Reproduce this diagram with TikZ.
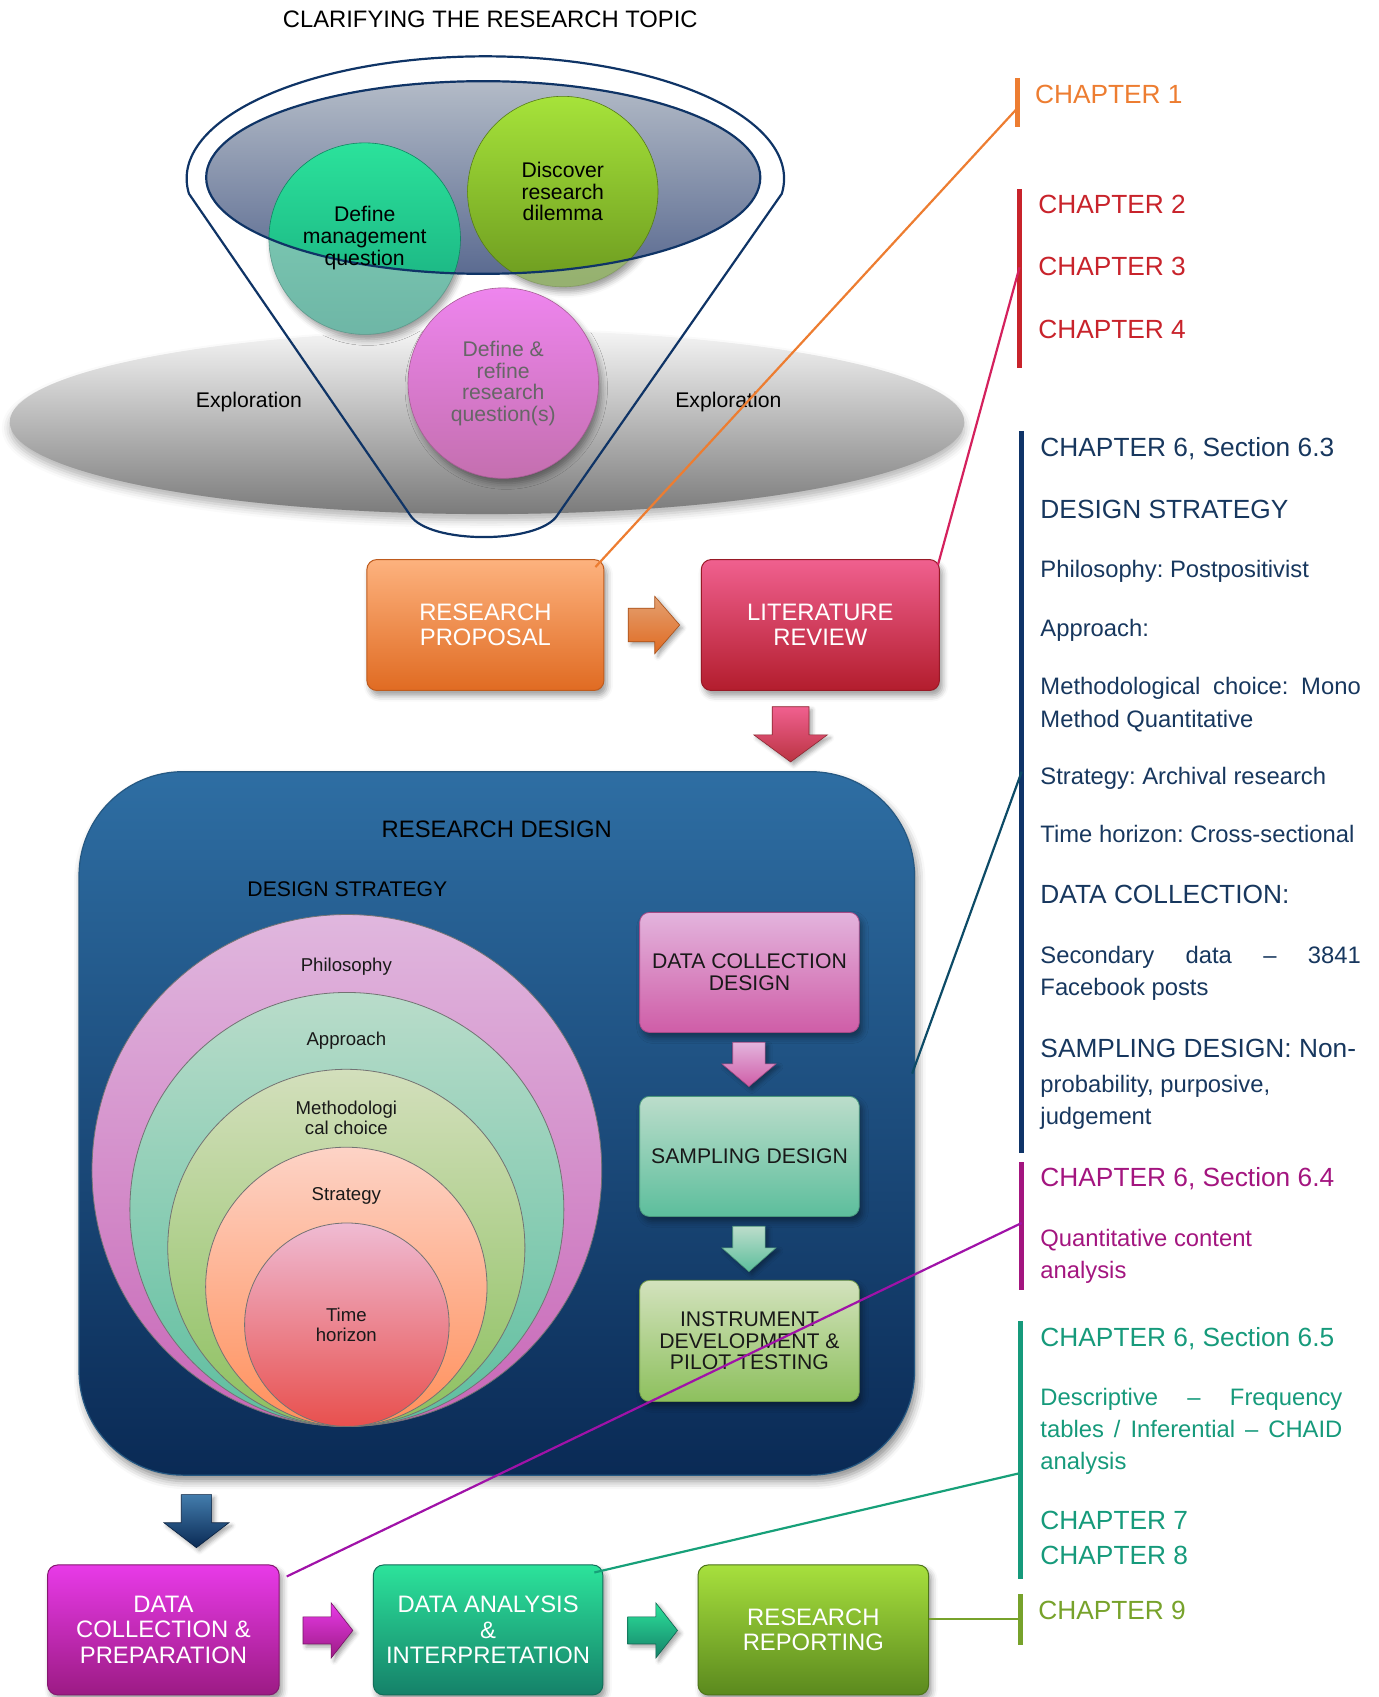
\documentclass[tikz,border=0pt]{standalone}
\usepackage{fontspec}
\setmainfont{Liberation Sans}
\usetikzlibrary{calc,shadows.blur}
\frenchspacing

% one drawing unit
\newcommand{\dpx}{0.5412pt}
% type sizes
\newcommand{\ftitle}{\fontsize{11.9pt}{13pt}\selectfont}
\newcommand{\fchap}{\fontsize{13.15pt}{14pt}\selectfont}
\newcommand{\fnote}{\fontsize{11.9pt}{13pt}\selectfont}
\newcommand{\fstage}{\fontsize{11.9pt}{12.7pt}\selectfont}
\newcommand{\fbody}{\fontsize{10.6pt}{10.8pt}\selectfont}
\newcommand{\fring}{\fontsize{9.3pt}{9.75pt}\selectfont}

% colours
\definecolor{funnelLine}{HTML}{0F3466}
\definecolor{discTop}{HTML}{F5F5F5}
\definecolor{discMid}{HTML}{CDCDCD}
\definecolor{discBot}{HTML}{7B7B7B}
\definecolor{ellTop}{HTML}{B3BBC7}
\definecolor{ellBot}{HTML}{5B6B91}
\definecolor{mgmtTop}{HTML}{2BE29B}
\definecolor{mgmtBot}{HTML}{17A77C}
\definecolor{mgmtPaleTop}{HTML}{82D2B8}
\definecolor{mgmtPaleBot}{HTML}{6EB6A6}
\definecolor{dilTop}{HTML}{A6E33A}
\definecolor{dilBot}{HTML}{6C9A1F}
\definecolor{dilPale}{HTML}{A6C47C}
\definecolor{rqTop}{HTML}{EE85EE}
\definecolor{rqBot}{HTML}{C46FAF}
\definecolor{propTop}{HTML}{FDB27E}
\definecolor{propBot}{HTML}{E06B22}
\definecolor{litTop}{HTML}{F0608F}
\definecolor{litBot}{HTML}{B31D2D}
\definecolor{rdTop}{HTML}{2E6EA3}
\definecolor{rdBot}{HTML}{0A2A55}
\definecolor{philTop}{HTML}{E0B7DE}
\definecolor{philBot}{HTML}{C866B7}
\definecolor{apprTop}{HTML}{B9DCCA}
\definecolor{apprBot}{HTML}{5DBE9F}
\definecolor{methTop}{HTML}{D3DFBC}
\definecolor{methBot}{HTML}{8CC05E}
\definecolor{stratTop}{HTML}{FDD3C6}
\definecolor{stratBot}{HTML}{FF8F5A}
\definecolor{timeTop}{HTML}{EFBBD3}
\definecolor{timeBot}{HTML}{E8504E}
\definecolor{dcdTop}{HTML}{E3B4DD}
\definecolor{dcdBot}{HTML}{CF5DA7}
\definecolor{sampTop}{HTML}{BCDDCB}
\definecolor{sampBot}{HTML}{5CBE9C}
\definecolor{instTop}{HTML}{D3E2BD}
\definecolor{instBot}{HTML}{8DC05D}
\definecolor{dcpTop}{HTML}{E83AE8}
\definecolor{dcpBot}{HTML}{9C1B84}
\definecolor{daiTop}{HTML}{2CE39B}
\definecolor{daiBot}{HTML}{158169}
\definecolor{rrTop}{HTML}{A7E03D}
\definecolor{rrBot}{HTML}{5B891E}
\definecolor{chOrange}{HTML}{ED7D31}
\definecolor{chRed}{HTML}{C8232B}
\definecolor{chNavy}{HTML}{17375E}
\definecolor{barNavy}{HTML}{0F3468}
\definecolor{chPurple}{HTML}{A3157F}
\definecolor{chTeal}{HTML}{169A7B}
\definecolor{chGreen}{HTML}{77A22B}
\definecolor{lnLit}{HTML}{D4215D}
\definecolor{lnDesign}{HTML}{0D4B67}
\definecolor{lnPurple}{HTML}{A012A8}
\definecolor{lnTeal}{HTML}{17A079}

% block arrows: shaft start, shaft end, tip, centre line, half shaft, half head, colours
\newcommand{\rblock}[8]{%
  \shade[top color=#7, bottom color=#8, draw=#8!75!black, line width=0.3pt,
    blur shadow={shadow xshift=1.5pt, shadow yshift=-1.5pt, shadow blur radius=2pt, shadow opacity=35}]
    (#1,#4-#5) -- (#2,#4-#5) -- (#2,#4-#6) -- (#3,#4) -- (#2,#4+#6) -- (#2,#4+#5) -- (#1,#4+#5) -- cycle;}
\newcommand{\dblock}[8]{%
  \shade[top color=#7, bottom color=#8, draw=#8!75!black, line width=0.3pt,
    blur shadow={shadow xshift=1.5pt, shadow yshift=-1.5pt, shadow blur radius=2pt, shadow opacity=35}]
    (#4-#5,#1) -- (#4+#5,#1) -- (#4+#5,#2) -- (#4+#6,#2) -- (#4,#3) -- (#4-#6,#2) -- (#4-#5,#2) -- cycle;}

\begin{document}
\begin{tikzpicture}[x=0.5412pt, y=-0.5412pt,
  softshadow/.style={blur shadow={shadow xshift=1.5pt, shadow yshift=-2.5pt, shadow blur radius=3pt, shadow opacity=40}},
  stage/.style={rectangle, rounded corners=5pt, line width=0.5pt, text=white,
    font=\fstage, align=center, inner sep=0, softshadow},
  inbox/.style={rectangle, rounded corners=5pt, line width=0.4pt, text=black!90,
    font=\fbody, align=center, inner sep=0, softshadow},
  label/.style={inner sep=0, align=center},
  ringlabel/.style={inner sep=0, align=center, font=\fring, text=black!90},
  chap/.style={anchor=base west, inner sep=0, font=\fchap},
  note/.style={anchor=base west, inner sep=0, font=\fnote},
  bar/.style={line width=2.7pt},
  link/.style={line width=1.1pt},
  ring/.style={draw=black!55, line width=0.4pt}]

\useasboundingbox (0,0) rectangle (1274,1568);
\clip (0,0) rectangle (1274,1568);

% ---------------- clarifying the research topic ----------------
\node[label, font=\ftitle] (title) at (453,18) {CLARIFYING THE RESEARCH TOPIC};

% exploration disc
\shade[top color=discTop, middle color=discMid, bottom color=discBot,
  blur shadow={shadow xshift=0pt, shadow yshift=-3pt, shadow blur radius=4pt, shadow opacity=30}]
  (450,390) ellipse [x radius=441, y radius=85];

% the two upper circles, pale where they leave the ellipse
\shade[top color=mgmtPaleTop, bottom color=mgmtPaleBot, draw=mgmtPaleBot!85!black, line width=0.3pt,
  softshadow] (337,220.5) circle [radius=88.5];
\shade[top color=dilPale, bottom color=dilPale!90!black, draw=dilPale!80!black, line width=0.3pt,
  softshadow] (520,177) circle [radius=88];

% dark ellipse at the mouth of the funnel
\shade[top color=ellTop, bottom color=ellBot] (446.5,164) ellipse [x radius=256, y radius=89];
\begin{scope}
  \clip (446.5,164) ellipse [x radius=256, y radius=89];
  \shade[top color=mgmtTop, bottom color=mgmtBot, draw=mgmtBot!80!black, line width=0.3pt]
    (337,220.5) circle [radius=88.5];
  \shade[top color=dilTop, bottom color=dilBot, draw=dilBot!80!black, line width=0.3pt]
    (520,177) circle [radius=88];
\end{scope}
\draw[funnelLine, line width=1.1pt] (446.5,164) ellipse [x radius=256, y radius=89];

\node[label, font=\fbody] (mgmt) at (337,220) {Define\\management\\question};
\node[label, font=\fbody] (dilemma) at (520,177) {Discover\\research\\dilemma};

% lower circle
\shade[top color=rqTop, bottom color=rqBot, draw=rqBot!85!black, line width=0.3pt, softshadow]
  (465,354) circle [radius=88];
\node[label, font=\fbody, text=black!60] (rq) at (465,354.5) {Define \&\\refine\\research\\question(s)};

% funnel outline
\draw[funnelLine, line width=1.1pt]
  (174.6,179) arc [start angle=172.9, end angle=367.1, x radius=276, y radius=113]
  -- (515,476) .. controls (498,503) and (396,503) .. (379,476) -- cycle;

\node[label, font=\fbody] (explL) at (230,371) {Exploration};
\node[label, font=\fbody] (explR) at (673,371) {Exploration};

% ---------------- proposal and literature ----------------
\node[stage, top color=propTop, bottom color=propBot, draw=propBot!85!black,
  minimum width=219*\dpx, minimum height=121*\dpx] (prop) at (448.5,577.5) {RESEARCH\\PROPOSAL};
\node[stage, top color=litTop, bottom color=litBot, draw=litBot!85!black,
  minimum width=220*\dpx, minimum height=121*\dpx] (lit) at (758,577.5) {LITERATURE\\REVIEW};

\rblock{580.5}{605}{628}{577.5}{15.5}{26.5}{propTop!90!black}{propBot}
\dblock{653}{679}{704}{730.5}{17}{34}{litTop}{litBot!90!white}

% ---------------- research design ----------------
\node[rectangle, rounded corners=52pt, top color=rdTop, bottom color=rdBot, draw=rdTop!80!black,
  line width=0.6pt, minimum width=772*\dpx, minimum height=650*\dpx,
  blur shadow={shadow xshift=1.5pt, shadow yshift=-3pt, shadow blur radius=4pt, shadow opacity=45}]
  (rd) at (459,1038) {};
\node[label, font=\fstage, text=black] (rdtitle) at (459,766) {RESEARCH DESIGN};
\node[label, font=\fbody, text=black] (dstitle) at (321,822) {DESIGN STRATEGY};

% research onion
\shade[ring, top color=philTop, bottom color=philBot] (320.5,1081.5) ellipse [x radius=235.5, y radius=236.5];
\shade[ring, top color=apprTop, bottom color=apprBot] (320.5,1117.5) ellipse [x radius=200.5, y radius=200.5];
\shade[ring, top color=methTop, bottom color=methBot] (320,1153) ellipse [x radius=165, y radius=165];
\shade[ring, top color=stratTop, bottom color=stratBot] (320,1189) ellipse [x radius=130, y radius=129];
\shade[ring, top color=timeTop, bottom color=timeBot] (320.5,1224) ellipse [x radius=94.5, y radius=94];

\node[ringlabel] (phil) at (320,893) {Philosophy};
\node[ringlabel] (appr) at (320,962) {Approach};
\node[ringlabel] (meth) at (320,1033) {Methodologi\\cal choice};
\node[ringlabel] (strat) at (320,1105) {Strategy};
\node[ringlabel] (time) at (320,1224) {Time\\horizon};

% design stages
\node[inbox, top color=dcdTop, bottom color=dcdBot, draw=dcdBot!80!black,
  minimum width=203*\dpx, minimum height=111*\dpx] (dcd) at (692.5,898.5) {DATA COLLECTION\\DESIGN};
\node[inbox, top color=sampTop, bottom color=sampBot, draw=sampBot!80!black,
  minimum width=203*\dpx, minimum height=111*\dpx] (samp) at (692.5,1068.5) {SAMPLING DESIGN};
\node[inbox, top color=instTop, bottom color=instBot, draw=instBot!80!black,
  minimum width=203*\dpx, minimum height=112*\dpx] (inst) at (692.5,1239) {INSTRUMENT\\DEVELOPMENT \&\\PILOT TESTING};

\dblock{963}{983}{1004}{692}{15}{25}{dcdTop}{dcdBot}
\dblock{1133}{1153}{1175}{692}{15}{25}{sampTop}{sampBot}
\dblock{1381}{1407}{1430}{181.5}{14}{30}{rdTop!90!white}{rdBot}

% ---------------- collection, analysis, reporting ----------------
\node[stage, top color=dcpTop, bottom color=dcpBot, draw=dcpBot!85!black,
  minimum width=214*\dpx, minimum height=120*\dpx] (dcp) at (151,1506) {DATA\\COLLECTION \&\\PREPARATION};
\node[stage, top color=daiTop, bottom color=daiBot, draw=daiBot!85!black,
  minimum width=212*\dpx, minimum height=120*\dpx] (dai) at (451,1506) {DATA ANALYSIS\\\&\\INTERPRETATION};
\node[stage, top color=rrTop, bottom color=rrBot, draw=rrBot!85!black,
  minimum width=213*\dpx, minimum height=120*\dpx] (rr) at (751.5,1506) {RESEARCH\\REPORTING};

\rblock{280}{306}{326}{1506.5}{12.5}{25.5}{dcpTop}{dcpBot}
\rblock{580}{606}{626}{1506.5}{12.5}{25.5}{daiTop}{daiBot}

% ---------------- chapter column ----------------
\coordinate (b1t) at (940,72);    \coordinate (b1b) at (940,117);
\coordinate (b2t) at (942,175);   \coordinate (b2b) at (942,340);
\coordinate (b3t) at (944,398);   \coordinate (b3b) at (944,1065);
\coordinate (b4t) at (944,1074);  \coordinate (b4b) at (944,1192);
\coordinate (b5t) at (943,1221);  \coordinate (b5b) at (943,1459);
\coordinate (b6t) at (943,1473);  \coordinate (b6b) at (943,1520);
\draw[bar, chOrange] (b1t) -- (b1b);
\draw[bar, chRed] (b2t) -- (b2b);
\draw[bar, barNavy] (b3t) -- (b3b);
\draw[bar, chPurple] (b4t) -- (b4b);
\draw[bar, chTeal] (b5t) -- (b5b);
\draw[bar, chGreen] (b6t) -- (b6b);

\node[chap, text=chOrange] (ch1) at (956,96) {CHAPTER 1};

\node[chap, text=chRed] (ch2) at (959,197) {CHAPTER 2};
\node[chap, text=chRed] (ch3) at (959,255) {CHAPTER 3};
\node[chap, text=chRed] (ch4) at (959,313) {CHAPTER 4};

\node[chap, text=chNavy] (ch63) at (961,422) {CHAPTER 6, Section 6.3};
\node[chap, text=chNavy] (dshead) at (961,479) {DESIGN STRATEGY};
\node[note, text=chNavy] (nphil) at (961,534) {Philosophy: Postpositivist};
\node[note, text=chNavy] (nappr) at (961,588) {Approach:};
\node[note, text=chNavy] (nmeth1) at (961,642) {\makebox[160.2pt][s]{Methodological choice: Mono}};
\node[note, text=chNavy] (nmeth2) at (961,672) {Method Quantitative};
\node[note, text=chNavy] (nstrat) at (961,725) {Strategy: Archival research};
\node[note, text=chNavy] (ntime) at (961,778) {Time horizon: Cross-sectional};
\node[chap, text=chNavy] (dchead) at (961,835) {DATA COLLECTION:};
\node[note, text=chNavy] (nsec1) at (961,890) {\makebox[160.2pt][s]{Secondary data -- 3841}};
\node[note, text=chNavy] (nsec2) at (961,920) {Facebook posts};
\node[chap, text=chNavy] (sdhead) at (961,977) {SAMPLING DESIGN: Non-};
\node[note, text=chNavy] (nsd1) at (961,1009) {probability, purposive,};
\node[note, text=chNavy] (nsd2) at (961,1039) {judgement};

\node[chap, text=chPurple] (ch64) at (961,1096) {CHAPTER 6, Section 6.4};
\node[note, text=chPurple] (nqca1) at (961,1152) {Quantitative content};
\node[note, text=chPurple] (nqca2) at (961,1181) {analysis};

\node[chap, text=chTeal] (ch65) at (961,1244) {CHAPTER 6, Section 6.5};
\node[note, text=chTeal] (ndesc1) at (961,1299) {\makebox[151pt][s]{Descriptive -- Frequency}};
\node[note, text=chTeal] (ndesc2) at (961,1328) {\makebox[151pt][s]{tables / Inferential -- CHAID}};
\node[note, text=chTeal] (ndesc3) at (961,1358) {analysis};
\node[chap, text=chTeal] (ch7) at (961,1413) {CHAPTER 7};
\node[chap, text=chTeal] (ch8) at (961,1446) {CHAPTER 8};

\node[chap, text=chGreen] (ch9) at (959,1496) {CHAPTER 9};

% ---------------- links from stages to chapters ----------------
\coordinate (j1) at (940,100);
\coordinate (j2) at (942,247);
\coordinate (j3) at (944,713);
\coordinate (j4) at (944,1130);
\coordinate (j5) at (943,1361);
\coordinate (j6) at (943,1496);
\draw[link, chOrange] ([xshift=-4.5pt, yshift=-4pt]prop.north east) -- (j1);
\draw[link, lnLit] ([xshift=-1pt, yshift=-3pt]lit.north east) -- (j2);
\draw[link, lnDesign] ([xshift=-1.5pt]rd.east |- 0,992) -- (j3);
\draw[link, lnPurple] ([xshift=3.5pt, yshift=-6pt]dcp.north east) -- (j4);
\draw[link, lnTeal] ([xshift=-4.5pt, yshift=-4pt]dai.north east) -- (j5);
\draw[link, chGreen] (rr.east |- 0,1496) -- (j6);

\end{tikzpicture}
\end{document}
